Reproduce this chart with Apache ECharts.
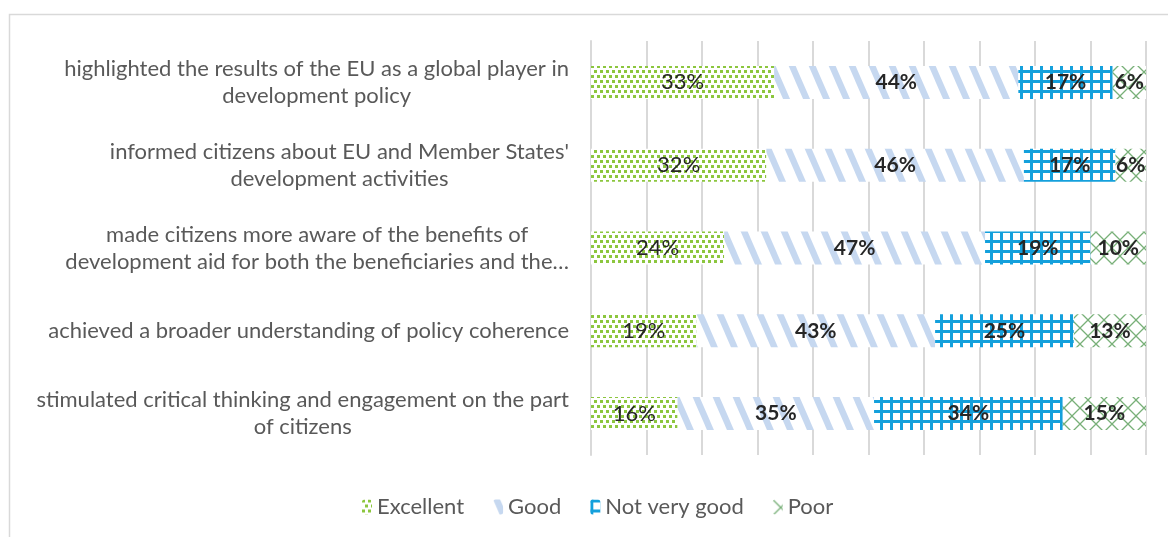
<!DOCTYPE html>
<html>
<head>
<meta charset="utf-8">
<script src="https://cdn.jsdelivr.net/npm/echarts@6/dist/echarts.min.js"></script>
<style>
  html, body { margin: 0; padding: 0; background: #fff; }
  #chart { width: 1168px; height: 537px; }
</style>
</head>
<body>
<div id="chart"></div>
<script>
// categories, top to bottom
var categories = [
    'highlighted the results of the EU as a global player in\ndevelopment policy',
    "informed citizens about EU and Member States'\ndevelopment activities",
    'made citizens more aware of the benefits of\ndevelopment aid for both the beneficiaries and the\u2026',
    'achieved a broader understanding of policy coherence',
    'stimulated critical thinking and engagement on the part\nof citizens'
];
var seriesNames = ['Excellent', 'Good', 'Not very good', 'Poor'];
var excellent = [33, 31.6, 24, 19, 15.6];
var good = [44, 46.4, 47, 43, 35.4];
var notVeryGood = [17, 16.5, 19, 25, 34];
var poor = [6, 5.5, 10, 13, 15];
var xTicks = [0, 10, 20, 30, 40, 50, 60, 70, 80, 90, 100];

// pattern tiles
var makeTile = function (w, h, draw) {
    var c = document.createElement('canvas');
    c.width = w;
    c.height = h;
    var ctx = c.getContext('2d');
    ctx.fillStyle = '#ffffff';
    ctx.fillRect(0, 0, w, h);
    draw(ctx);
    return c;
};

var dotTile = makeTile(6, 10, function (ctx) {
    ctx.fillStyle = '#8cc63e';
    ctx.fillRect(0, 0, 3, 3);
    ctx.fillRect(3, 5, 3, 3);
});

var stripeTile = makeTile(20, 46, function (ctx) {
    ctx.fillStyle = '#c6d8f0';
    [-20, 0, 20].forEach(function (dx) {
        ctx.beginPath();
        ctx.moveTo(dx, 0);
        ctx.lineTo(dx + 7, 0);
        ctx.lineTo(dx + 27, 46);
        ctx.lineTo(dx + 20, 46);
        ctx.closePath();
        ctx.fill();
    });
});

var gridTile = makeTile(10, 10, function (ctx) {
    ctx.fillStyle = '#14a0dc';
    ctx.fillRect(0, 0, 3, 10);
    ctx.fillRect(0, 0, 10, 3);
});

var crossTile = makeTile(16, 16, function (ctx) {
    ctx.strokeStyle = '#78b078';
    ctx.lineWidth = 1.3;
    ctx.beginPath();
    ctx.moveTo(0, 0);
    ctx.lineTo(16, 16);
    ctx.moveTo(16, 0);
    ctx.lineTo(0, 16);
    ctx.stroke();
});

var fills = [dotTile, stripeTile, gridTile, crossTile];
var values = [excellent, good, notVeryGood, poor];

var myChart = echarts.init(document.getElementById('chart'));

var series = seriesNames.map(function (name, i) {
    return {
        name: name,
        type: 'bar',
        stack: 'total',
        barWidth: 33,
        data: values[i],
        itemStyle: {
            color: { image: fills[i], repeat: 'repeat' }
        },
        label: {
            show: true,
            position: 'inside',
            color: '#262626',
            fontFamily: 'Lato',
            fontSize: i === 0 ? 22 : 21,
            fontWeight: i === 0 ? 'normal' : 'bold',
            formatter: function (p) {
                return Math.round(p.value) + '%';
            }
        }
    };
});

var option = {
    animation: false,
    backgroundColor: '#ffffff',
    graphic: [{
        type: 'rect',
        left: 7,
        top: 12,
        shape: { width: 1200, height: 600 },
        style: { fill: 'none', stroke: '#d9d9d9', lineWidth: 1.5 },
        silent: true
    }],
    grid: {
        left: 591,
        right: 22,
        top: 41,
        bottom: 82
    },
    legend: {
        data: seriesNames,
        left: 357,
        top: 491,
        itemWidth: 10,
        itemHeight: 15,
        itemGap: 29,
        textStyle: {
            color: '#595959',
            fontFamily: 'Lato',
            fontSize: 22
        }
    },
    xAxis: {
        type: 'value',
        min: xTicks[0],
        max: xTicks[xTicks.length - 1],
        interval: 10,
        axisLabel: { show: false },
        axisLine: { show: false },
        axisTick: { show: false },
        splitLine: { lineStyle: { color: '#d9d9d9', width: 2 } }
    },
    yAxis: {
        type: 'category',
        inverse: true,
        data: categories,
        axisLine: { lineStyle: { color: '#d9d9d9', width: 2 } },
        axisTick: { show: false },
        axisLabel: {
            margin: 22,
            align: 'right',
            formatter: function (v) {
                return v.split('\n').map(function (l) {
                    return '{c|' + l + '}';
                }).join('\n');
            },
            rich: {
                c: {
                    align: 'center',
                    color: '#595959',
                    fontFamily: 'Lato',
                    fontSize: 22,
                    lineHeight: 27
                }
            }
        }
    },
    series: series
};

myChart.setOption(option);
</script>
</body>
</html>
